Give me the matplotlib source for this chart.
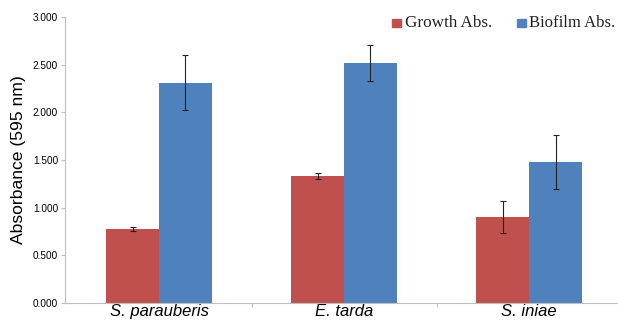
import matplotlib
matplotlib.use("Agg")
import matplotlib.pyplot as plt
import numpy as np

species = ["S. parauberis", "E. tarda", "S. iniae"]
growth = [0.78, 1.33, 0.90]
growth_err = [0.02, 0.03, 0.17]
biofilm = [2.31, 2.52, 1.48]
biofilm_err = [0.29, 0.19, 0.28]
yticks = [0.0, 0.5, 1.0, 1.5, 2.0, 2.5, 3.0]

red = "#C0504D"
blue = "#4F81BD"
grey = "#BFBFBF"

fig = plt.figure(figsize=(6.18, 3.24), dpi=100)
ax = fig.add_axes([65 / 618, 21 / 324, 1 - 65 / 618, (303 - 17) / 324])

x = np.arange(len(species))
w = 0.285
ax.bar(x - w / 2, growth, w, color=red, yerr=growth_err,
       error_kw=dict(ecolor="#222222", elinewidth=0.8, capsize=2.5, capthick=0.8))
ax.bar(x + w / 2, biofilm, w, color=blue, yerr=biofilm_err,
       error_kw=dict(ecolor="#222222", elinewidth=0.8, capsize=2.5, capthick=0.8))

ax.set_xlim(-0.508, 2.48)
ax.set_ylim(0, 3.0)
ax.set_yticks(yticks)
ax.set_yticklabels([f"{v:.3f}" for v in yticks], fontsize=7.2, family="Liberation Sans")
ax.set_xticks(x)
ax.set_xticklabels(species, fontsize=12, style="italic", family="Liberation Sans")
ax.tick_params(axis="x", length=0, pad=1)
ax.set_xticks([0.5, 1.5], minor=True)
ax.tick_params(axis="x", which="minor", length=3, color=grey, width=0.8)
ax.tick_params(axis="y", length=3, color=grey, width=0.8, pad=2)

for s in ["top", "right"]:
    ax.spines[s].set_visible(False)
ax.spines["left"].set_color(grey)
ax.spines["bottom"].set_color(grey)

ax.set_ylabel("Absorbance (595 nm)", fontsize=12.6, family="Liberation Sans")
ax.yaxis.set_label_coords(-0.07, 0.5)

# legend drawn by hand, placed like the original
fig.patches.append(plt.Rectangle((392 / 618, 1 - 27 / 324), 9 / 618, 8 / 324,
                                 color=red, transform=fig.transFigure))
fig.text(405 / 618, 1 - 23 / 324, "Growth Abs.", fontsize=12.3,
         family="Liberation Serif", va="center", color="#222222")
fig.patches.append(plt.Rectangle((517 / 618, 1 - 27 / 324), 9 / 618, 8 / 324,
                                 color=blue, transform=fig.transFigure))
fig.text(529 / 618, 1 - 23 / 324, "Biofilm Abs.", fontsize=12.0,
         family="Liberation Serif", va="center", color="#222222")

fig.savefig("out.png", dpi=100)
